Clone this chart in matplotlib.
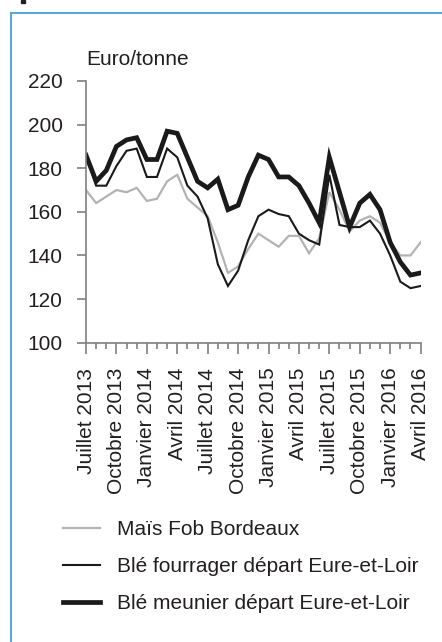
import matplotlib
matplotlib.use("Agg")
import matplotlib.pyplot as plt
from matplotlib.lines import Line2D
from matplotlib.patches import Rectangle
import numpy as np

plt.rcParams['font.family'] = ['Liberation Sans', 'DejaVu Sans']

months = ["Juillet 2013", "Août 2013", "Septembre 2013", "Octobre 2013", "Novembre 2013", "Décembre 2013",
          "Janvier 2014", "Février 2014", "Mars 2014", "Avril 2014", "Mai 2014", "Juin 2014",
          "Juillet 2014", "Août 2014", "Septembre 2014", "Octobre 2014", "Novembre 2014", "Décembre 2014",
          "Janvier 2015", "Février 2015", "Mars 2015", "Avril 2015", "Mai 2015", "Juin 2015",
          "Juillet 2015", "Août 2015", "Septembre 2015", "Octobre 2015", "Novembre 2015", "Décembre 2015",
          "Janvier 2016", "Février 2016", "Mars 2016", "Avril 2016"]

mais = [170, 164, 167, 170, 169, 171, 165, 166, 174, 177, 166, 162,
        158, 146, 132, 135, 143, 150, 147, 144, 149, 149, 141, 148,
        169, 161, 151, 156, 158, 155, 146, 140, 140, 146]

ble_fourrager = [186, 172, 172, 181, 188, 189, 176, 176, 189, 185, 172, 167,
                 157, 136, 126, 133, 147, 158, 161, 159, 158, 150, 147, 145,
                 177, 154, 153, 153, 156, 150, 140, 128, 125, 126]

ble_meunier = [186, 174, 179, 190, 193, 194, 184, 184, 197, 196, 185, 174,
               171, 175, 161, 163, 176, 186, 184, 176, 176, 172, 164, 155,
               185, 169, 153, 164, 168, 161, 146, 137, 131, 132]

series_labels = ["Maïs Fob Bordeaux", "Blé fourrager départ Eure-et-Loir", "Blé meunier départ Eure-et-Loir"]
y_ticks = [100, 120, 140, 160, 180, 200, 220]
unit_label = "Euro/tonne"

W, H = 442, 642
FS = 15
fig = plt.figure(figsize=(W / 100, H / 100), dpi=100)

ax = fig.add_axes([86 / W, 1 - 342.7 / H, (420.6 - 86) / W, (342.7 - 81) / H])

x = np.arange(len(months))
text_color = "#231f20"
l1, = ax.plot(x, mais, color="#b3b3b3", lw=1.6, solid_joinstyle="miter")
l2, = ax.plot(x, ble_fourrager, color="#1a1a1a", lw=1.5, solid_joinstyle="miter")
l3, = ax.plot(x, ble_meunier, color="#1a1a1a", lw=3.4, solid_joinstyle="miter")

ax.set_xlim(0, len(months) - 1)
ax.set_ylim(100, 220)
ax.set_yticks(y_ticks)
ax.set_yticklabels([str(v) for v in y_ticks])

major = list(range(0, len(months), 3))
ax.set_xticks(major)
ax.set_xticklabels([months[i] for i in major], rotation=90)
ax.set_xticks(x, minor=True)

for s in ["top", "right"]:
    ax.spines[s].set_visible(False)
for s in ["left", "bottom"]:
    ax.spines[s].set_color("#7f7f7f")
    ax.spines[s].set_linewidth(1.2)

ax.tick_params(axis="y", which="major", length=6.3, width=1.2, color="#7f7f7f",
               pad=10.5, labelsize=FS, labelcolor=text_color)
ax.tick_params(axis="x", which="major", length=8, width=1.2, color="#7f7f7f",
               pad=10, labelsize=FS, labelcolor=text_color)
ax.tick_params(axis="x", which="minor", length=4.5, width=1.2, color="#7f7f7f")

fig.text(86 / W, 1 - 65 / H, unit_label, fontsize=FS, color=text_color,
         ha="left", va="baseline")

leg = fig.legend([l1, l2, l3], series_labels, loc="upper left",
                 bbox_to_anchor=(63 / W, 1 - 520 / H), frameon=False,
                 fontsize=FS, handlelength=1.78, handletextpad=0.82,
                 labelspacing=0.86, borderaxespad=0, borderpad=0)
for t in leg.get_texts():
    t.set_color(text_color)

# frame
blue = "#5aa7dc"
fig.add_artist(Line2D([11 / W, 11 / W], [0, 1 - 12.5 / H], color=blue, lw=1.5,
                      transform=fig.transFigure))
fig.add_artist(Line2D([11 / W, 1], [1 - 12.5 / H, 1 - 12.5 / H], color=blue, lw=1.5,
                      transform=fig.transFigure))
fig.add_artist(Rectangle((21 / W, 1 - 3 / H), 4 / W, 3 / H, color="#222222",
                         transform=fig.transFigure))

fig.savefig("out.png", dpi=100)
